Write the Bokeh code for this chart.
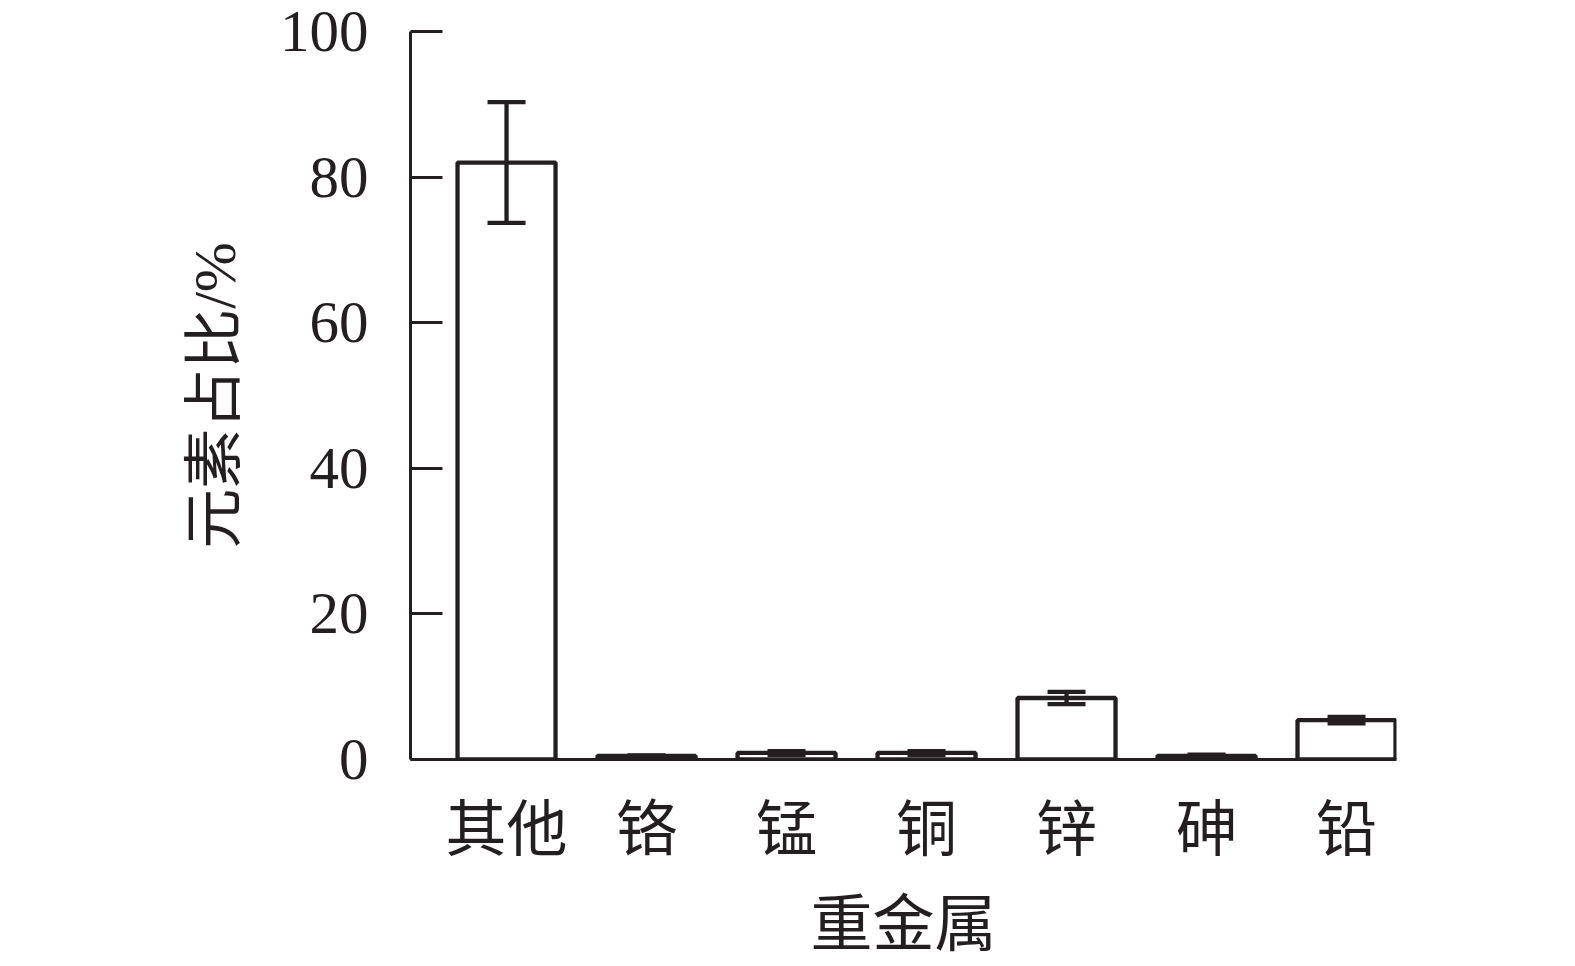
from bokeh.plotting import figure
from bokeh.models import ColumnDataSource, FixedTicker, Range1d, Whisker, TeeHead, Title
from bokeh.embed import file_html
from bokeh.resources import INLINE

categories = ["其他", "铬", "锰", "铜", "锌", "砷", "铅"]
values = [82.0, 0.5, 0.9, 0.9, 8.45, 0.5, 5.4]
errors = [8.3, 0.05, 0.25, 0.25, 0.85, 0.15, 0.45]
y_ticks = [0, 20, 40, 60, 80, 100]
x_title = "重金属"
y_title = "元素占比/%"

DARK = "#231f20"
NUM_FONT = "'Liberation Serif', 'Noto Sans CJK SC', serif"
CJK_FONT = "'Noto Sans CJK SC', 'Liberation Serif', serif"

X_MIN, X_MAX = -0.686, 6.357

xs = list(range(len(categories)))
src = ColumnDataSource(dict(
    x=xs,
    top=values,
    upper=[v + e for v, e in zip(values, errors)],
    lower=[v - e for v, e in zip(values, errors)],
))

p = figure(width=1575, height=966, output_backend="svg", toolbar_location=None,
           x_range=Range1d(X_MIN, X_MAX), y_range=Range1d(0, 100),
           min_border_left=410, min_border_right=179, min_border_top=31, min_border_bottom=207)
p.outline_line_color = None
p.xgrid.grid_line_color = None
p.ygrid.grid_line_color = None
p.background_fill_color = "white"
p.border_fill_color = "white"

p.vbar(x="x", top="top", width=0.7, bottom=0, source=src,
       fill_color="white", line_color=DARK, line_width=4.3)

wh = Whisker(source=src, base="x", upper="upper", lower="lower",
             line_color=DARK, line_width=4.3, level="overlay",
             upper_head=TeeHead(size=38, line_color=DARK, line_width=4.3),
             lower_head=TeeHead(size=38, line_color=DARK, line_width=4.3))
p.add_layout(wh)

# y axis
ya = p.yaxis[0]
ya.ticker = FixedTicker(ticks=y_ticks)
ya.axis_line_color = DARK
ya.axis_line_width = 3
ya.major_tick_line_color = DARK
ya.major_tick_line_width = 3
ya.major_tick_in = 32
ya.major_tick_out = 0
ya.minor_tick_line_color = None
ya.major_label_text_font = NUM_FONT
ya.major_label_text_font_size = "59px"
ya.major_label_text_color = DARK
ya.major_label_standoff = 42
ya.axis_label = y_title
ya.axis_label_text_font = NUM_FONT
ya.axis_label_text_font_size = "60px"
ya.axis_label_text_font_style = "normal"
ya.axis_label_text_color = DARK
ya.axis_label_standoff = 29

# x axis
xa = p.xaxis[0]
xa.ticker = FixedTicker(ticks=xs)
xa.major_label_overrides = {i: c for i, c in enumerate(categories)}
xa.axis_line_color = DARK
xa.axis_line_width = 3
xa.major_tick_line_color = None
xa.minor_tick_line_color = None
xa.major_label_text_font = CJK_FONT
xa.major_label_text_font_size = "61px"
xa.major_label_text_color = DARK
xa.major_label_standoff = 14

xt = Title(text=x_title, align="center", text_font=CJK_FONT, text_font_size="62px",
           text_font_style="normal", text_color=DARK, standoff=0)
p.add_layout(xt, "below")

open("out.html", "w").write(file_html(p, INLINE))
